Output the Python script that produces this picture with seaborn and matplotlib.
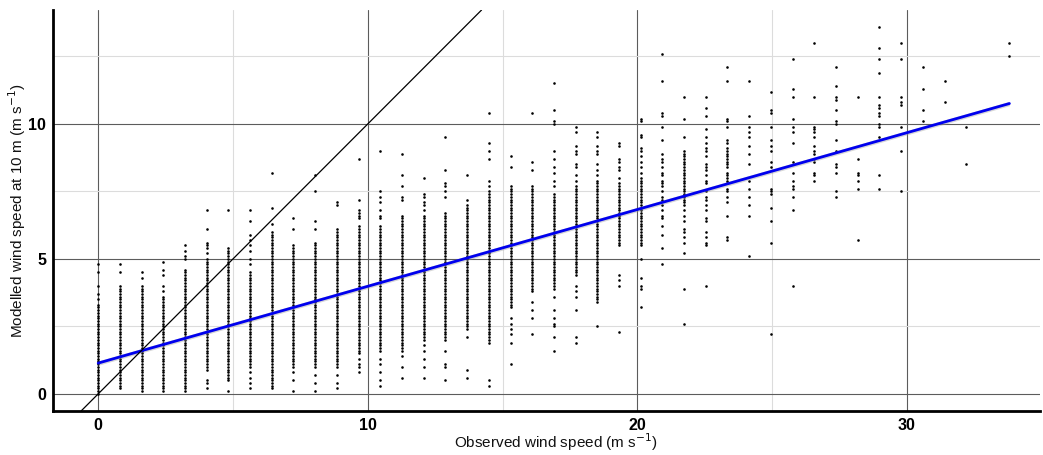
import numpy as np
import pandas as pd
import matplotlib.pyplot as plt
import seaborn as sns
from matplotlib.ticker import MultipleLocator

# --- DATA ---
# observed wind speed of each column of points (m/s)
obs_speed = [0.0, 0.8, 1.61, 2.42, 3.22, 4.02, 4.83, 5.63, 6.44, 7.24,
             8.05, 8.86, 9.66, 10.46, 11.27, 12.08, 12.88, 13.68, 14.49, 15.3,
             16.1, 16.9, 17.71, 18.52, 19.32, 20.12, 20.93, 21.74, 22.54, 23.34,
             24.15, 24.96, 25.76, 26.56, 27.37, 28.18, 28.98, 29.78, 30.59, 31.4,
             32.2, 33.8]

# modelled wind speed at 10 m for each column, in tenths of m/s
c00 = [0, 1, 2, 3, 4, 5, 6, 7, 8, 9, 10, 11, 12, 13, 14, 15, 16, 17, 18, 19, 20,
       21, 22, 23, 24, 25, 26, 27, 28, 29, 30, 31, 32, 33, 35, 37, 40, 45, 48]
c01 = [2, 3, 4, 5, 6, 7, 8, 9, 10, 11, 12, 13, 14, 15, 16, 17, 18, 19, 20, 21,
       22, 23, 24, 25, 26, 27, 28, 29, 30, 31, 32, 33, 34, 35, 36, 37, 38, 39,
       40, 45, 48]
c02 = [1, 2, 3, 4, 5, 6, 7, 8, 9, 10, 11, 12, 13, 14, 15, 16, 17, 18, 19, 20,
       21, 22, 23, 24, 25, 26, 27, 28, 29, 30, 31, 32, 33, 34, 35, 36, 37, 38,
       39, 40, 43, 45]
c03 = [1, 2, 3, 4, 5, 6, 7, 8, 9, 10, 11, 12, 13, 14, 15, 16, 17, 18, 19, 20,
       21, 22, 23, 24, 25, 26, 27, 28, 29, 30, 31, 32, 33, 34, 35, 36, 38, 40,
       44, 46, 49]
c04 = [1, 2, 3, 4, 5, 6, 7, 8, 9, 10, 11, 12, 13, 14, 15, 16, 17, 18, 19, 20,
       21, 22, 23, 24, 25, 26, 27, 28, 29, 30, 31, 32, 33, 34, 35, 36, 37, 38,
       39, 40, 41, 42, 43, 44, 45, 46, 50, 51, 53, 55]
c05 = [2, 4, 5, 9, 10, 11, 12, 13, 14, 15, 16, 17, 18, 19, 20, 21, 22, 23, 24,
       25, 26, 27, 28, 29, 30, 31, 32, 33, 34, 35, 36, 37, 38, 39, 40, 41, 42,
       43, 44, 45, 46, 47, 48, 49, 50, 52, 54, 55, 56, 61, 68]
c06 = [1, 5, 6, 7, 8, 9, 10, 11, 12, 13, 14, 15, 16, 17, 18, 19, 20, 21, 22, 23,
       24, 25, 26, 27, 28, 29, 30, 31, 32, 33, 34, 35, 36, 37, 38, 39, 40, 41,
       42, 43, 44, 45, 46, 47, 48, 49, 50, 51, 52, 53, 54, 68]
c07 = [2, 4, 6, 8, 10, 11, 12, 13, 14, 15, 16, 17, 18, 19, 20, 21, 22, 23, 24,
       25, 26, 27, 28, 29, 30, 31, 32, 33, 34, 35, 36, 37, 38, 39, 40, 41, 42,
       43, 44, 45, 48, 50, 53, 55, 57, 59, 64, 68]
c08 = [2, 3, 4, 5, 6, 7, 8, 9, 10, 11, 12, 13, 14, 15, 16, 17, 18, 19, 20, 21,
       22, 23, 24, 25, 26, 27, 28, 29, 30, 31, 32, 33, 34, 35, 36, 37, 38, 39,
       40, 41, 42, 43, 44, 45, 46, 47, 48, 49, 50, 51, 52, 53, 54, 55, 56, 57,
       58, 59, 60, 63, 69, 82]
c09 = [1, 5, 8, 10, 11, 12, 13, 14, 15, 16, 17, 18, 19, 20, 21, 22, 23, 24, 25,
       26, 27, 28, 29, 30, 31, 32, 33, 34, 35, 36, 37, 38, 39, 40, 41, 42, 43,
       44, 45, 46, 47, 48, 49, 50, 51, 52, 53, 54, 55, 61, 65]
c10 = [1, 4, 7, 10, 11, 12, 13, 14, 15, 16, 17, 18, 19, 20, 21, 22, 23, 24, 25,
       26, 27, 28, 29, 30, 31, 32, 33, 34, 35, 36, 37, 38, 39, 40, 41, 42, 43,
       44, 45, 46, 47, 48, 49, 50, 51, 52, 53, 54, 55, 56, 61, 64, 75, 81]
c11 = [2, 4, 7, 10, 11, 12, 13, 14, 15, 16, 17, 18, 19, 20, 21, 22, 23, 24, 25,
       26, 27, 28, 29, 30, 31, 32, 33, 34, 35, 36, 37, 38, 39, 40, 41, 42, 43,
       44, 45, 46, 47, 48, 49, 50, 51, 52, 53, 54, 55, 56, 57, 58, 59, 60, 61,
       70, 71]
c12 = [8, 10, 11, 13, 15, 16, 17, 18, 19, 20, 21, 22, 23, 24, 25, 26, 27, 28,
       29, 30, 31, 32, 33, 34, 35, 36, 37, 38, 39, 40, 41, 42, 43, 44, 45, 46,
       47, 48, 49, 50, 51, 52, 53, 54, 55, 56, 57, 58, 59, 60, 61, 62, 65, 66,
       67, 68, 72, 87]
c13 = [3, 5, 8, 11, 13, 16, 17, 18, 19, 20, 21, 22, 23, 24, 25, 26, 27, 28, 29,
       30, 31, 32, 33, 34, 35, 36, 37, 38, 39, 40, 41, 42, 43, 44, 45, 46, 47,
       48, 49, 50, 51, 52, 53, 54, 55, 56, 57, 58, 59, 60, 61, 62, 65, 66, 68,
       71, 73, 75, 90]
c14 = [6, 10, 14, 16, 17, 18, 19, 20, 21, 22, 23, 24, 25, 26, 27, 28, 29, 30,
       31, 32, 33, 34, 35, 36, 37, 38, 39, 40, 41, 42, 43, 44, 45, 46, 47, 48,
       49, 50, 51, 52, 53, 54, 55, 56, 57, 58, 59, 60, 61, 62, 63, 64, 65, 66,
       72, 73, 77, 81, 89]
c15 = [6, 10, 13, 16, 18, 20, 21, 22, 23, 24, 25, 26, 27, 28, 29, 30, 31, 32,
       33, 34, 35, 36, 37, 38, 39, 40, 41, 42, 43, 44, 45, 46, 47, 48, 49, 50,
       51, 52, 53, 54, 55, 56, 57, 58, 59, 60, 61, 62, 63, 64, 65, 66, 68, 70,
       71, 73, 74, 80]
c16 = [5, 10, 11, 16, 20, 21, 22, 23, 24, 25, 26, 27, 28, 29, 30, 31, 32, 33,
       34, 35, 36, 37, 38, 39, 40, 41, 42, 43, 44, 45, 46, 47, 48, 49, 50, 51,
       52, 53, 54, 55, 56, 57, 58, 59, 60, 61, 62, 63, 64, 65, 66, 67, 73, 75,
       77, 78, 83, 95]
c17 = [6, 9, 21, 24, 25, 26, 27, 28, 29, 30, 31, 32, 33, 34, 35, 36, 37, 38,
       39, 40, 41, 42, 43, 44, 45, 46, 47, 48, 49, 50, 51, 52, 53, 54, 55, 56,
       57, 58, 59, 60, 61, 62, 63, 64, 65, 66, 67, 68, 69, 70, 72, 81]
c18 = [3, 5, 19, 20, 21, 22, 23, 24, 25, 26, 27, 28, 29, 30, 31, 32, 33, 34,
       35, 36, 37, 38, 39, 40, 41, 42, 43, 44, 45, 46, 47, 48, 49, 50, 51, 52,
       53, 54, 55, 56, 57, 58, 59, 60, 61, 62, 63, 64, 65, 66, 67, 68, 69, 70,
       71, 72, 73, 74, 75, 77, 79, 87, 90, 93, 104]
c19 = [11, 19, 22, 24, 26, 28, 32, 33, 34, 35, 36, 37, 38, 39, 40, 41, 42, 43,
       44, 45, 46, 47, 48, 49, 50, 51, 52, 53, 54, 55, 56, 57, 58, 59, 60, 61,
       62, 63, 64, 65, 66, 67, 68, 69, 70, 71, 72, 73, 74, 75, 76, 77, 84, 88]
c20 = [22, 28, 31, 34, 38, 39, 40, 41, 42, 43, 44, 45, 46, 47, 48, 49, 50, 51,
       52, 53, 54, 55, 56, 57, 58, 59, 60, 61, 62, 63, 64, 65, 66, 67, 68, 69,
       70, 71, 72, 73, 74, 75, 76, 77, 83, 86, 104]
c21 = [16, 21, 25, 26, 28, 31, 36, 39, 40, 41, 42, 43, 44, 45, 46, 47, 48, 49,
       50, 51, 52, 53, 54, 55, 56, 57, 58, 59, 60, 61, 62, 63, 64, 65, 66, 67,
       68, 69, 70, 71, 72, 73, 74, 77, 79, 82, 84, 87, 90, 100, 101, 105, 115]
c22 = [19, 21, 31, 36, 38, 40, 44, 45, 46, 47, 48, 49, 50, 51, 52, 53, 54, 55,
       56, 57, 58, 59, 60, 61, 62, 63, 64, 65, 66, 67, 68, 69, 70, 71, 72, 73,
       74, 75, 76, 77, 79, 81, 84, 85, 89, 90, 92, 97, 99]
c23 = [25, 34, 35, 36, 37, 38, 39, 40, 41, 42, 43, 44, 45, 46, 47, 48, 49, 50,
       51, 52, 53, 54, 55, 56, 57, 58, 59, 60, 61, 62, 63, 64, 65, 66, 67, 68,
       69, 70, 71, 72, 73, 74, 75, 76, 77, 78, 79, 81, 83, 85, 89, 90, 92, 95,
       97]
c24 = [23, 40, 42, 44, 55, 56, 57, 58, 59, 60, 61, 62, 63, 64, 65, 66, 67, 68,
       69, 70, 71, 72, 73, 74, 75, 76, 77, 78, 80, 83, 84, 86, 87, 92, 93]
c25 = [32, 39, 40, 43, 50, 55, 56, 57, 58, 59, 60, 61, 62, 63, 64, 65, 66, 67,
       68, 69, 70, 71, 72, 73, 74, 75, 76, 77, 78, 79, 80, 82, 84, 86, 88, 90,
       91, 95, 96, 101, 102]
c26 = [48, 54, 59, 62, 65, 66, 68, 70, 72, 73, 75, 77, 78, 79, 81, 82, 84, 86,
       87, 89, 94, 99, 103, 104, 116, 126]
c27 = [26, 39, 52, 56, 58, 60, 61, 64, 66, 68, 70, 71, 72, 73, 74, 75, 76, 77,
       78, 79, 80, 81, 82, 83, 84, 85, 86, 87, 88, 89, 90, 95, 102, 110]
c28 = [40, 55, 56, 58, 60, 64, 65, 68, 70, 72, 73, 75, 78, 79, 81, 83, 84, 85,
       88, 90, 91, 93, 95, 98, 103, 106, 110]
c29 = [57, 58, 66, 71, 73, 75, 76, 78, 79, 80, 81, 82, 84, 85, 86, 87, 88, 89,
       90, 91, 93, 94, 99, 101, 102, 116, 121]
c30 = [51, 66, 70, 73, 76, 79, 85, 89, 92, 95, 97, 99, 103, 116]
c31 = [22, 56, 64, 69, 74, 75, 76, 84, 86, 90, 92, 94, 99, 104, 105, 112]
c32 = [40, 68, 73, 76, 77, 79, 82, 86, 93, 97, 99, 102, 110, 113, 124]
c33 = [79, 81, 82, 86, 87, 89, 90, 92, 95, 97, 98, 99, 110, 130]
c34 = [73, 75, 82, 84, 85, 90, 94, 100, 101, 105, 109, 110, 114, 121]
c35 = [57, 76, 79, 81, 82, 87, 110]
c36 = [76, 81, 95, 99, 100, 103, 104, 106, 107, 110, 119, 124, 128, 136]
c37 = [75, 90, 99, 107, 108, 110, 124, 130]
c38 = [101, 105, 113, 121]
c39 = [108, 116]
c40 = [85, 99]
c42 = [125, 130]

mod_columns = [c00, c01, c02, c03, c04, c05, c06, c07, c08, c09,
               c10, c11, c12, c13, c14, c15, c16, c17, c18, c19,
               c20, c21, c22, c23, c24, c25, c26, c27, c28, c29,
               c30, c31, c32, c33, c34, c35, c36, c37, c38, c39,
               c40, c42]

# linear fit (lm) as shown in the figure, with its 95% band half-width
fit_intercept = 1.14
fit_slope = 0.2845
fit_band = 0.08

rows = [(x, v / 10) for x, col in zip(obs_speed, mod_columns) for v in col]
df = pd.DataFrame(rows, columns=['observed', 'modelled'])

fit_x = np.array([min(obs_speed), max(obs_speed)])
fit_df = pd.DataFrame({'observed': fit_x,
                       'modelled': fit_intercept + fit_slope * fit_x})

# --- PLOT ---
sns.set_style('white')
plt.rcParams['font.family'] = ['Liberation Sans', 'DejaVu Sans']

fig = plt.figure(figsize=(10.43, 4.55), dpi=100)
ax = fig.add_axes([0.051, 0.097, 0.946, 0.881])

ax.xaxis.set_major_locator(MultipleLocator(10))
ax.xaxis.set_minor_locator(MultipleLocator(5))
ax.yaxis.set_major_locator(MultipleLocator(5))
ax.yaxis.set_minor_locator(MultipleLocator(2.5))
ax.grid(which='major', color='#5c5c5c', lw=0.8)
ax.grid(which='minor', color='#dcdcdc', lw=0.8)
ax.set_axisbelow(True)

sns.scatterplot(data=df, x='observed', y='modelled', ax=ax, s=3.5,
                color='black', linewidth=0)
ax.fill_between(fit_df['observed'], fit_df['modelled'] - fit_band,
                fit_df['modelled'] + fit_band, color='#999999', alpha=0.4,
                lw=0)
sns.lineplot(data=fit_df, x='observed', y='modelled', ax=ax,
             color='#0000ee', lw=2)
ax.axline((0, 0), slope=1, color='black', lw=0.9)

ax.set_xlim(-1.67, 34.93)
ax.set_ylim(-0.63, 14.22)

for side in ['top', 'right']:
    ax.spines[side].set_visible(False)
for side in ['left', 'bottom']:
    ax.spines[side].set_color('black')
    ax.spines[side].set_linewidth(2)

ax.tick_params(which='both', length=0, pad=5, labelsize=11.5,
               labelcolor='black')
for lab in ax.get_xticklabels() + ax.get_yticklabels():
    lab.set_fontweight('bold')

ax.set_xlabel('Observed wind speed (m s$^{-1}$)', fontsize=11, color='#111111')
ax.set_ylabel('Modelled wind speed at 10 m (m s$^{-1}$)', fontsize=11,
              color='#111111')
ax.xaxis.set_label_coords(0.51, -0.05)
ax.yaxis.set_label_coords(-0.026, 0.5)

plt.savefig('out.png', dpi=100)
